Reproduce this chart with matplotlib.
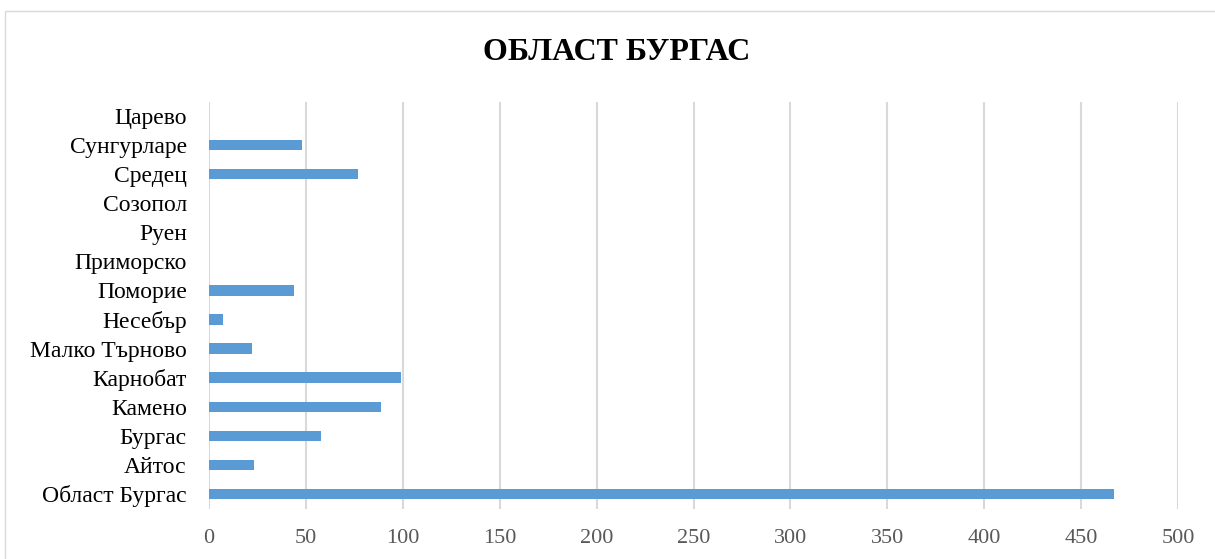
import matplotlib
matplotlib.use("Agg")
import matplotlib.pyplot as plt
from matplotlib.patches import Rectangle

categories = ["Област Бургас", "Айтос", "Бургас", "Камено", "Карнобат",
              "Малко Търново", "Несебър", "Поморие", "Приморско", "Руен",
              "Созопол", "Средец", "Сунгурларе", "Царево"]
values = [467, 23, 58, 89, 99, 22, 7, 44, 0, 0, 0, 77, 48, 0]
xticks = [0, 50, 100, 150, 200, 250, 300, 350, 400, 450, 500]

plt.rcParams['font.family'] = ['Liberation Serif', 'DejaVu Serif']

fig = plt.figure(figsize=(12.15, 5.59), dpi=100)
ax = fig.add_axes([209/1215, 1-508.5/559, (1178-209)/1215, (508.5-101.5)/559])

ypos = list(range(len(categories)))
ax.barh(ypos, values, height=0.36, color="#5b9bd5", zorder=3)
ax.set_ylim(-0.5, len(categories)-0.5)
ax.set_xlim(0, 500)
ax.set_xticks(xticks)
ax.set_xticklabels([str(t) for t in xticks], fontsize=16, color="#595959")
ax.set_yticks(ypos)
ax.set_yticklabels(categories, fontsize=17, color="black")
ax.tick_params(axis='both', length=0)
ax.tick_params(axis='x', pad=15)
ax.tick_params(axis='y', pad=16)
ax.grid(axis='x', color="#d9d9d9", linewidth=1.5, zorder=0)
for s in ax.spines.values():
    s.set_visible(False)

fig.text(617/1215, 1-53/559, "ОБЛАСТ БУРГАС", ha='center', va='center',
         fontsize=23, fontweight='bold', color='black')

fig.patches.append(Rectangle((5/1215, -0.01), 1.02, 1-11/559+0.01, transform=fig.transFigure,
                             fill=False, edgecolor="#d9d9d9", linewidth=1))

fig.savefig("out.png", dpi=100)
